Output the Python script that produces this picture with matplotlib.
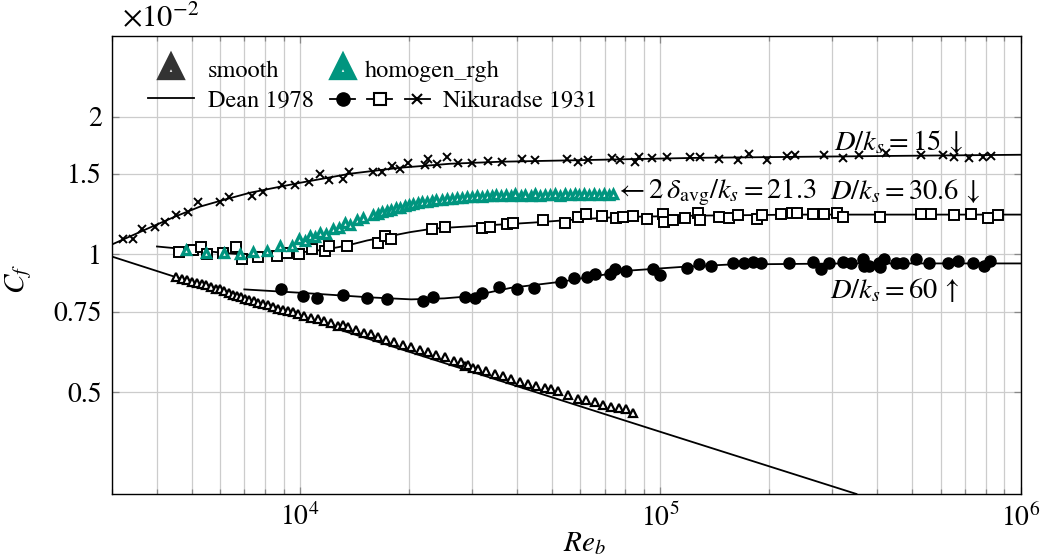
import matplotlib
matplotlib.use("Agg")
import matplotlib.pyplot as plt
from matplotlib.lines import Line2D
from matplotlib.legend_handler import HandlerTuple
from matplotlib.ticker import LogLocator, NullLocator, NullFormatter, FixedLocator, FixedFormatter

plt.rcParams['font.family'] = 'STIXGeneral'
plt.rcParams['mathtext.fontset'] = 'stix'

teal = '#00957f'

# Cf values are in units of 1e-2 (the axis shows x10^-2)

# smooth pipe (triangles)
smooth_re = [4524, 4700, 4855, 5020, 5175, 5330, 5482, 5660, 5843, 6000,
             6150, 6330, 6504, 6680, 6857, 7040, 7232, 7430, 7629, 7880,
             8135, 8400, 8673, 8950, 9245, 9540, 9853, 10280, 10730, 11200,
             11680, 12200, 12730, 13150, 13570, 14300, 15090, 15750, 16440, 17340,
             18280, 19300, 20340, 21450, 22630, 23880, 25170, 26800, 27900, 28600,
             29300, 30200, 31160, 32800, 34650, 36500, 38560, 40700, 42910, 45300,
             47720, 49800, 51970, 55400, 59070, 62300, 65700, 69300, 73100, 76700,
             80450, 84140]
smooth_cf = [0.893, 0.884, 0.878, 0.873, 0.868, 0.862, 0.856, 0.850, 0.839, 0.840,
             0.832, 0.823, 0.814, 0.812, 0.807, 0.800, 0.794, 0.790, 0.785, 0.779,
             0.774, 0.768, 0.762, 0.758, 0.753, 0.748, 0.740, 0.735, 0.728, 0.722,
             0.716, 0.709, 0.698, 0.700, 0.693, 0.684, 0.675, 0.670, 0.662, 0.652,
             0.643, 0.636, 0.627, 0.620, 0.611, 0.604, 0.596, 0.585, 0.582, 0.571,
             0.575, 0.566, 0.562, 0.556, 0.548, 0.542, 0.535, 0.528, 0.521, 0.515,
             0.510, 0.508, 0.504, 0.494, 0.484, 0.481, 0.476, 0.470, 0.464, 0.462,
             0.460, 0.451]

# homogeneous roughness (teal triangles)
rgh_re = [4824, 5482, 6150, 6813, 7403, 8094, 8790, 9502, 9955, 10300,
          10660, 11000, 11365, 11800, 12370, 12800, 13340, 13800, 14370, 14990,
          15950, 16400, 16900, 17450, 17900, 18400, 18960, 19500, 20000, 20610,
          21200, 21800, 22540, 23200, 23900, 24700, 25610, 26400, 27200, 28100,
          29090, 30000, 31000, 32000, 33000, 34000, 35000, 36000, 37200, 38400,
          39600, 40900, 42200, 43600, 45000, 46400, 47900, 49400, 51000, 52600,
          54300, 56000, 57800, 59600, 61500, 63400, 65400, 67500, 69600, 71800,
          74000]
rgh_cf = [1.025, 1.009, 1.009, 1.000, 1.012, 1.020, 1.046, 1.046, 1.082, 1.070,
          1.096, 1.090, 1.115, 1.110, 1.137, 1.140, 1.172, 1.160, 1.191, 1.202,
          1.222, 1.225, 1.238, 1.247, 1.250, 1.262, 1.266, 1.278, 1.282, 1.291,
          1.293, 1.302, 1.304, 1.310, 1.315, 1.318, 1.324, 1.325, 1.331, 1.330,
          1.337, 1.335, 1.342, 1.338, 1.345, 1.340, 1.350, 1.342, 1.349, 1.344,
          1.352, 1.343, 1.350, 1.345, 1.353, 1.344, 1.350, 1.346, 1.354, 1.345,
          1.352, 1.346, 1.355, 1.347, 1.353, 1.348, 1.356, 1.349, 1.354, 1.350,
          1.357]

# Dean 1978
dean_re = [3000, 10000, 100000, 350000]
dean_cf = [0.99, 0.73, 0.41, 0.30]

# Nikuradse 1931, D/ks = 15 (crosses)
n15_re = [3224, 3437, 3640, 3956, 4217, 4524, 4886, 5210, 5995, 6350,
          7356, 7893, 8913, 9686, 10593, 11365, 12035, 13164, 13680, 15950,
          16900, 18010, 18960, 19950, 22240, 22680, 24020, 25600, 27470, 30050,
          33290, 36400, 41380, 44960, 55160, 59190, 63100, 73560, 77430, 85210,
          87000, 95000, 104600, 121200, 129200, 145800, 164700, 176700, 198200, 225300,
          237100, 283700, 320300, 354800, 421700, 527500, 607300, 651400, 717100, 784500,
          825400]
n15_cf = [1.083, 1.083, 1.139, 1.151, 1.180, 1.222, 1.241, 1.304, 1.304, 1.337,
          1.344, 1.371, 1.420, 1.420, 1.442, 1.501, 1.456, 1.464, 1.516, 1.516,
          1.516, 1.562, 1.539, 1.586, 1.570, 1.618, 1.578, 1.634, 1.586, 1.586,
          1.602, 1.594, 1.618, 1.610, 1.618, 1.594, 1.610, 1.626, 1.610, 1.594,
          1.634, 1.626, 1.634, 1.634, 1.634, 1.618, 1.610, 1.659, 1.610, 1.642,
          1.651, 1.651, 1.626, 1.651, 1.667, 1.651, 1.651, 1.634, 1.626, 1.634,
          1.642]
n15_line_re = [3000, 3831, 4500, 5275, 6180, 7262, 8525, 10000, 11730, 13770,
               16160, 18960, 22240, 26100, 35940, 68130, 129200, 244900, 464200, 1000000]
n15_line_cf = [1.051, 1.145, 1.210, 1.272, 1.318, 1.364, 1.399, 1.434, 1.467, 1.501,
               1.524, 1.547, 1.562, 1.578, 1.594, 1.610, 1.626, 1.634, 1.642, 1.651]

# Nikuradse 1931, D/ks = 30.6 (open squares)
n30_re = [4612, 5045, 5309, 5517, 6111, 6640, 6901, 7644, 8633, 9202,
          9936, 10800, 11730, 12035, 13510, 16470, 17220, 17890, 23270, 25280,
          32030, 33710, 37580, 39050, 47320, 54460, 59190, 62310, 69010, 75460,
          78900, 84140, 92020, 101900, 102600, 108700, 117300, 127500, 129200, 145800,
          155500, 163700, 185900, 192000, 216800, 231200, 238700, 264400, 283700, 308300,
          320300, 405800, 527500, 562300, 651400, 726300, 809600, 863300]
n30_cf = [1.015, 1.025, 1.036, 1.000, 1.010, 1.036, 0.980, 0.985, 0.990, 1.010,
          1.000, 1.030, 1.020, 1.046, 1.041, 1.062, 1.100, 1.083, 1.139, 1.151,
          1.145, 1.151, 1.168, 1.174, 1.191, 1.174, 1.210, 1.228, 1.216, 1.204,
          1.210, 1.216, 1.198, 1.228, 1.180, 1.191, 1.204, 1.234, 1.191, 1.210,
          1.204, 1.222, 1.198, 1.222, 1.228, 1.234, 1.234, 1.228, 1.228, 1.234,
          1.210, 1.210, 1.228, 1.228, 1.222, 1.228, 1.204, 1.222]
n30_line_re = [4007, 5275, 6390, 7743, 10000, 11730, 13510, 15350, 17450, 20210,
               23420, 27470, 32240, 37830, 44380, 58040, 75960, 129200, 244900, 1000000]
n30_line_cf = [1.041, 1.020, 1.005, 0.995, 1.010, 1.025, 1.046, 1.073, 1.094, 1.119,
               1.139, 1.148, 1.157, 1.165, 1.174, 1.192, 1.207, 1.216, 1.222, 1.222]

# Nikuradse 1931, D/ks = 60 (filled circles)
n60_re = [8855, 10170, 11130, 13140, 15350, 17450, 22000, 23370, 28730, 30630,
          31970, 35550, 40070, 44480, 52870, 57590, 62700, 65700, 72320, 74660,
          80450, 95640, 100000, 118900, 127900, 138600, 159500, 170100, 180200, 189600,
          228200, 264400, 278300, 292900, 320300, 337300, 364000, 366400, 378300, 403300,
          405800, 416400, 449600, 470000, 510900, 555200, 627000, 668300, 735600, 789300,
          820000]
n60_cf = [0.839, 0.811, 0.805, 0.815, 0.802, 0.801, 0.793, 0.807, 0.809, 0.805,
          0.822, 0.849, 0.842, 0.843, 0.871, 0.888, 0.893, 0.908, 0.905, 0.928,
          0.920, 0.930, 0.900, 0.932, 0.954, 0.942, 0.956, 0.956, 0.961, 0.956,
          0.956, 0.961, 0.928, 0.956, 0.961, 0.956, 0.980, 0.942, 0.946, 0.956,
          0.937, 0.980, 0.956, 0.956, 0.980, 0.956, 0.956, 0.966, 0.956, 0.946,
          0.970]
n60_line_re = [7002, 10000, 15650, 20340, 25120, 29850, 38560, 53090, 66410, 83060,
               113650, 156400, 337300, 1000000]
n60_line_cf = [0.839, 0.825, 0.806, 0.798, 0.802, 0.811, 0.846, 0.872, 0.898, 0.923,
               0.939, 0.951, 0.956, 0.956]

yticks = [0.5, 0.75, 1, 1.5, 2]
ytick_labels = ['0.5', '0.75', '1', '1.5', '2']

fig = plt.figure(figsize=(10.41, 5.6), dpi=100)
ax = fig.add_axes([0.1073, 0.1179, 0.8732, 0.8179])

lw = 1.3
ax.plot(dean_re, dean_cf, color='black', lw=lw, zorder=2)
ax.plot(n15_line_re, n15_line_cf, color='black', lw=lw, zorder=2)
ax.plot(n30_line_re, n30_line_cf, color='black', lw=lw, zorder=2)
ax.plot(n60_line_re, n60_line_cf, color='black', lw=lw, zorder=2)

ax.plot(n15_re, n15_cf, ls='none', marker='x', ms=6, mew=1.4, color='black', zorder=3)
ax.plot(n30_re, n30_cf, ls='none', marker='s', ms=7, mfc='white', mec='black', mew=1.4, zorder=3)
ax.plot(n60_re, n60_cf, ls='none', marker='o', ms=8, color='black', zorder=3)
ax.plot(smooth_re, smooth_cf, ls='none', marker='^', ms=6, mfc='white', mec='black', mew=1.6, zorder=4)
ax.plot(rgh_re, rgh_cf, ls='none', marker='^', ms=5.5, mfc='white', mec=teal, mew=2.4, zorder=5)

ax.set_xscale('log')
ax.set_yscale('log')
ax.set_xlim(3000, 1e6)
ax.set_ylim(0.3, 3.0)

ax.xaxis.set_major_locator(LogLocator(base=10, numticks=10))
ax.xaxis.set_minor_locator(LogLocator(base=10, subs=range(2, 10), numticks=20))
ax.xaxis.set_minor_formatter(NullFormatter())
ax.yaxis.set_major_locator(FixedLocator(yticks))
ax.yaxis.set_major_formatter(FixedFormatter(ytick_labels))
ax.yaxis.set_minor_locator(NullLocator())

ax.set_axisbelow(True)
ax.grid(True, which='major', color='#cccccc', lw=0.9)
ax.grid(True, which='minor', axis='x', color='#cccccc', lw=0.9)

ax.tick_params(which='both', direction='in', top=True, right=True, color='#888888', labelsize=20)
ax.tick_params(which='major', length=5, width=0.9, pad=7)
ax.tick_params(which='minor', length=3.5, width=0.9)
for s in ax.spines.values():
    s.set_linewidth(1.0)

ax.set_xlabel('$Re_b$', fontsize=21)
ax.xaxis.set_label_coords(0.52, -0.08)
ax.set_ylabel('$C_f$', fontsize=21)
ax.yaxis.set_label_coords(-0.085, 0.47)

ax.text(0.011, 1.022, r'$\times 10^{-2}$', transform=ax.transAxes, fontsize=22, va='baseline')

# annotations
ax.text(302400, 1.692, r'$D/k_s = 15\,\downarrow$', fontsize=20.5, va='baseline')
ax.text(296500, 1.324, r'$D/k_s = 30.6\,\downarrow$', fontsize=20.5, va='baseline')
ax.text(296500, 0.805, r'$D/k_s = 60\,\uparrow$', fontsize=20.5, va='baseline')
ax.text(74500, 1.324, r'$\leftarrow 2\,\delta_{\mathrm{avg}}/k_s = 21.3$', fontsize=20.5, va='baseline')

# legends
h_smooth = Line2D([], [], ls='none', marker='^', ms=11.5, mfc='white', mec='#333333', mew=6)
h_dean = Line2D([], [], color='black', lw=lw)
h_rgh = Line2D([], [], ls='none', marker='^', ms=11.5, mfc='white', mec=teal, mew=6)
h_n60 = Line2D([], [], color='black', lw=lw, marker='o', ms=9.5)
h_n30 = Line2D([], [], color='black', lw=lw, marker='s', ms=8.5, mfc='white', mew=1.5)
h_n15 = Line2D([], [], color='black', lw=lw, marker='x', ms=7, mew=1.5)

leg1 = ax.legend([h_smooth, h_dean], ['smooth', 'Dean 1978'], loc='upper left',
                 bbox_to_anchor=(0.040, 0.948), frameon=False, fontsize=17.5,
                 handlelength=1.9, handletextpad=0.55, labelspacing=0.32,
                 borderpad=0, borderaxespad=0)
ax.add_artist(leg1)
leg2 = ax.legend([h_rgh], ['homogen_rgh'], loc='upper left',
                 bbox_to_anchor=(0.2413, 0.948), frameon=False, fontsize=17.5,
                 handlelength=1.0, handletextpad=0.4, borderpad=0, borderaxespad=0)
ax.add_artist(leg2)
ax.legend([(h_n60, h_n30, h_n15)], ['Nikuradse 1931'], loc='upper left',
          handler_map={tuple: HandlerTuple(ndivide=None, pad=0.5)},
          bbox_to_anchor=(0.2402, 0.882), frameon=False, fontsize=17.5,
          handlelength=4.1, handletextpad=0.55, borderpad=0, borderaxespad=0)

fig.savefig('out.png', dpi=100)
